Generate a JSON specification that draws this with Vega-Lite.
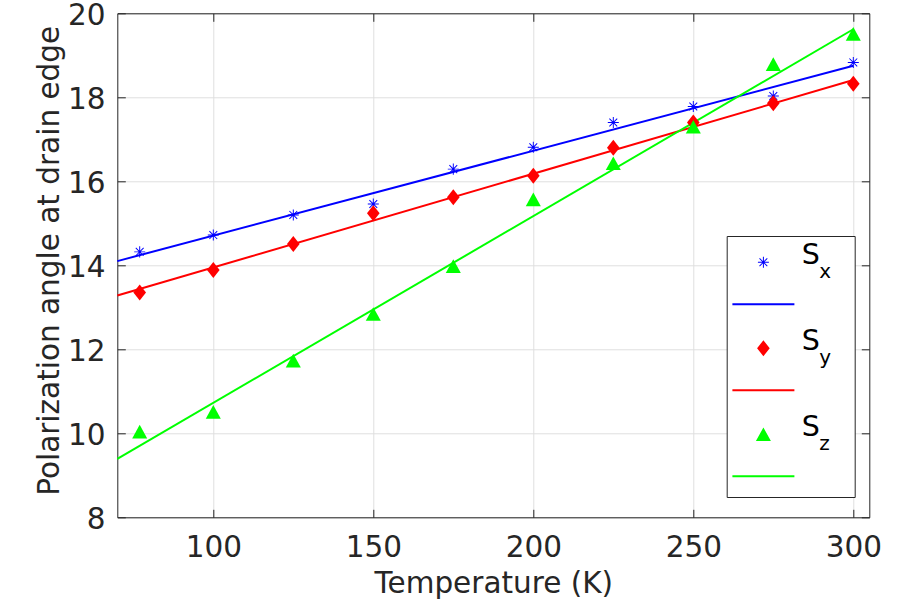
{
  "$schema": "https://vega.github.io/schema/vega-lite/v6.json",
  "description": "Polarization angle at drain edge versus temperature, with linear fits per spin component.",
  "width": 752,
  "height": 504,
  "autosize": {"type": "none"},
  "padding": {"left": 117.3, "top": 13.3, "right": 30.7, "bottom": 82.7},
  "config": {
    "font": "DejaVu Sans",
    "view": {"stroke": null},
    "axis": {
      "labelFont": "DejaVu Sans",
      "titleFont": "DejaVu Sans",
      "labelColor": "#262626",
      "titleColor": "#262626",
      "domainColor": "#262626",
      "tickColor": "#262626",
      "gridColor": "#dfdfdf",
      "gridOpacity": 1,
      "labelFontSize": 29.5,
      "titleFontSize": 29.5,
      "titleFontWeight": "normal",
      "tickSize": -8,
      "domainWidth": 1,
      "tickWidth": 1
    }
  },
  "datasets": {
    "points": [
      {"T": 77, "angle": 14.32, "series": "Sx"},
      {"T": 100, "angle": 14.72, "series": "Sx"},
      {"T": 125, "angle": 15.20, "series": "Sx"},
      {"T": 150, "angle": 15.46, "series": "Sx"},
      {"T": 175, "angle": 16.29, "series": "Sx"},
      {"T": 200, "angle": 16.81, "series": "Sx"},
      {"T": 225, "angle": 17.40, "series": "Sx"},
      {"T": 250, "angle": 17.78, "series": "Sx"},
      {"T": 275, "angle": 18.03, "series": "Sx"},
      {"T": 300, "angle": 18.83, "series": "Sx"},
      {"T": 77, "angle": 13.35, "series": "Sy"},
      {"T": 100, "angle": 13.89, "series": "Sy"},
      {"T": 125, "angle": 14.51, "series": "Sy"},
      {"T": 150, "angle": 15.24, "series": "Sy"},
      {"T": 175, "angle": 15.62, "series": "Sy"},
      {"T": 200, "angle": 16.13, "series": "Sy"},
      {"T": 225, "angle": 16.80, "series": "Sy"},
      {"T": 250, "angle": 17.40, "series": "Sy"},
      {"T": 275, "angle": 17.86, "series": "Sy"},
      {"T": 300, "angle": 18.32, "series": "Sy"},
      {"T": 77, "angle": 10.04, "series": "Sz"},
      {"T": 100, "angle": 10.51, "series": "Sz"},
      {"T": 125, "angle": 11.73, "series": "Sz"},
      {"T": 150, "angle": 12.84, "series": "Sz"},
      {"T": 175, "angle": 13.98, "series": "Sz"},
      {"T": 200, "angle": 15.57, "series": "Sz"},
      {"T": 225, "angle": 16.43, "series": "Sz"},
      {"T": 250, "angle": 17.30, "series": "Sz"},
      {"T": 275, "angle": 18.79, "series": "Sz"},
      {"T": 300, "angle": 19.51, "series": "Sz"}
    ],
    "fits": [
      {"T": 70, "angle": 14.10, "series": "Sx"},
      {"T": 300, "angle": 18.75, "series": "Sx"},
      {"T": 70, "angle": 13.28, "series": "Sy"},
      {"T": 300, "angle": 18.41, "series": "Sy"},
      {"T": 70, "angle": 9.39, "series": "Sz"},
      {"T": 300, "angle": 19.62, "series": "Sz"}
    ]
  },
  "resolve": {"axis": {"x": "independent", "y": "independent"}},
  "layer": [
    {
      "data": {"name": "fits"},
      "mark": {"type": "point", "filled": true, "opacity": 0, "size": 256},
      "encoding": {
        "x": {"field": "T", "type": "quantitative", "axis": null},
        "y": {"field": "angle", "type": "quantitative", "axis": null},
        "color": {
          "field": "series",
          "type": "nominal",
          "legend": {
            "orient": "none",
            "legendX": 609.4,
            "legendY": 222.7,
            "title": null,
            "padding": 5,
            "rowPadding": 0,
            "symbolSize": 676,
            "symbolOpacity": 1,
            "symbolStrokeWidth": 0,
            "labelExpr": "'S'",
            "labelFont": "DejaVu Sans",
            "labelFontSize": 28.5,
            "labelColor": "#000000",
            "labelBaseline": "middle",
            "labelOffset": 41.5,
            "fillColor": "#ffffff",
            "strokeColor": "#262626"
          }
        },
        "shape": {
          "field": "series",
          "type": "nominal",
          "scale": {
            "domain": ["Sx", "Sy", "Sz"],
            "range": [
              "M0.9192,0.5038H1.7654V0.5808H0.9192Z M1.3038,0.1192H1.3808V0.9654H1.3038Z M1.0689,0.2173L1.6673,0.8157L1.6157,0.8673L1.0173,0.2689Z M1.0689,0.8673L1.0173,0.8157L1.6157,0.2173L1.6673,0.2689Z M-1.0423,3.6961H3.727V3.85H-1.0423Z M1.1538,-1.5615L1.1538,-1.5615 M7.927,4.9538L7.927,4.9538",
              "M1.3423,-0.0731L1.8285,0.5423L1.3423,1.1577L0.8562,0.5423Z M-1.0423,3.6961H3.727V3.85H-1.0423Z M1.1538,-1.5615L1.1538,-1.5615 M7.927,4.9538L7.927,4.9538",
              "M1.3423,0.0192L1.9193,1.0654L0.7654,1.0654Z M-1.0423,3.6961H3.727V3.85H-1.0423Z M1.1538,-1.5615L1.1538,-1.5615 M7.927,4.9538L7.927,4.9538"
            ]
          },
          "legend": {
            "orient": "none",
            "legendX": 609.4,
            "legendY": 222.7,
            "title": null,
            "padding": 5,
            "rowPadding": 0,
            "symbolSize": 676,
            "symbolOpacity": 1,
            "symbolStrokeWidth": 0,
            "labelExpr": "'S'",
            "labelFont": "DejaVu Sans",
            "labelFontSize": 28.5,
            "labelColor": "#000000",
            "labelBaseline": "middle",
            "labelOffset": 41.5,
            "fillColor": "#ffffff",
            "strokeColor": "#262626"
          }
        },
        "opacity": {
          "field": "series",
          "type": "nominal",
          "scale": {"range": [0, 0, 0]},
          "legend": {
            "orient": "none",
            "legendX": 609.4,
            "legendY": 246.15,
            "title": null,
            "padding": 5,
            "rowPadding": 0,
            "values": ["Sx", "Sy", "Sz"],
            "symbolSize": 676,
            "symbolType": "M-1.0423,-1.5615H7.927V4.9538H-1.0423Z",
            "symbolOpacity": 0,
            "labelExpr": "datum.value === 'Sx' ? 'x' : datum.value === 'Sy' ? 'y' : 'z'",
            "labelFont": "DejaVu Sans",
            "labelFontSize": 20,
            "labelColor": "#000000",
            "labelBaseline": "alphabetic",
            "labelOffset": 59.5
          }
        }
      }
    },
    {
      "data": {"name": "fits"},
      "mark": {"type": "line", "strokeWidth": 2},
      "encoding": {
        "x": {
          "field": "T",
          "type": "quantitative",
          "scale": {"domain": [70, 305], "nice": false, "zero": false},
          "axis": {"orient": "top", "labels": false, "grid": false, "title": null, "values": [100, 150, 200, 250, 300]}
        },
        "y": {
          "field": "angle",
          "type": "quantitative",
          "scale": {"domain": [8, 20], "nice": false, "zero": false},
          "axis": {"orient": "right", "labels": false, "grid": false, "title": null, "values": [8, 10, 12, 14, 16, 18, 20]}
        },
        "color": {
          "field": "series",
          "type": "nominal",
          "scale": {"domain": ["Sx", "Sy", "Sz"], "range": ["#0000ff", "#ff0000", "#00ff00"]}
        }
      }
    },
    {
      "data": {"name": "points"},
      "transform": [{"filter": "datum.series === 'Sx'"}],
      "mark": {"type": "point", "filled": true, "size": 256, "opacity": 1, "shape": "M-0.69,-0.06H0.69V0.06H-0.69Z M-0.06,-0.69H0.06V0.69H-0.06Z M-0.448,-0.532L0.532,0.448L0.448,0.532L-0.532,-0.448Z M-0.448,0.532L-0.532,0.448L0.448,-0.532L0.532,-0.448Z"},
      "encoding": {
        "x": {
          "field": "T",
          "type": "quantitative",
          "title": "Temperature (K)",
          "axis": {"orient": "bottom", "grid": true, "values": [100, 150, 200, 250, 300], "labelPadding": 24, "titlePadding": 8}
        },
        "y": {
          "field": "angle",
          "type": "quantitative",
          "title": "Polarization angle at drain edge",
          "axis": {"orient": "left", "grid": true, "values": [8, 10, 12, 14, 16, 18, 20], "labelPadding": 20.3, "labelOffset": 2.5, "titlePadding": 3, "titleY": 247}
        },
        "color": {"field": "series", "type": "nominal"}
      }
    },
    {
      "data": {"name": "points"},
      "transform": [{"filter": "datum.series === 'Sy'"}],
      "mark": {"type": "point", "filled": true, "size": 256, "opacity": 1, "shape": "M0,-1L0.79,0L0,1L-0.79,0Z"},
      "encoding": {
        "x": {"field": "T", "type": "quantitative", "axis": null},
        "y": {"field": "angle", "type": "quantitative", "axis": null},
        "color": {"field": "series", "type": "nominal"}
      }
    },
    {
      "data": {"name": "points"},
      "transform": [{"filter": "datum.series === 'Sz'"}],
      "mark": {"type": "point", "filled": true, "size": 256, "opacity": 1, "shape": "M0,-0.85L0.94,0.85L-0.94,0.85Z"},
      "encoding": {
        "x": {"field": "T", "type": "quantitative", "axis": null},
        "y": {"field": "angle", "type": "quantitative", "axis": null},
        "color": {"field": "series", "type": "nominal"}
      }
    }
  ]
}
